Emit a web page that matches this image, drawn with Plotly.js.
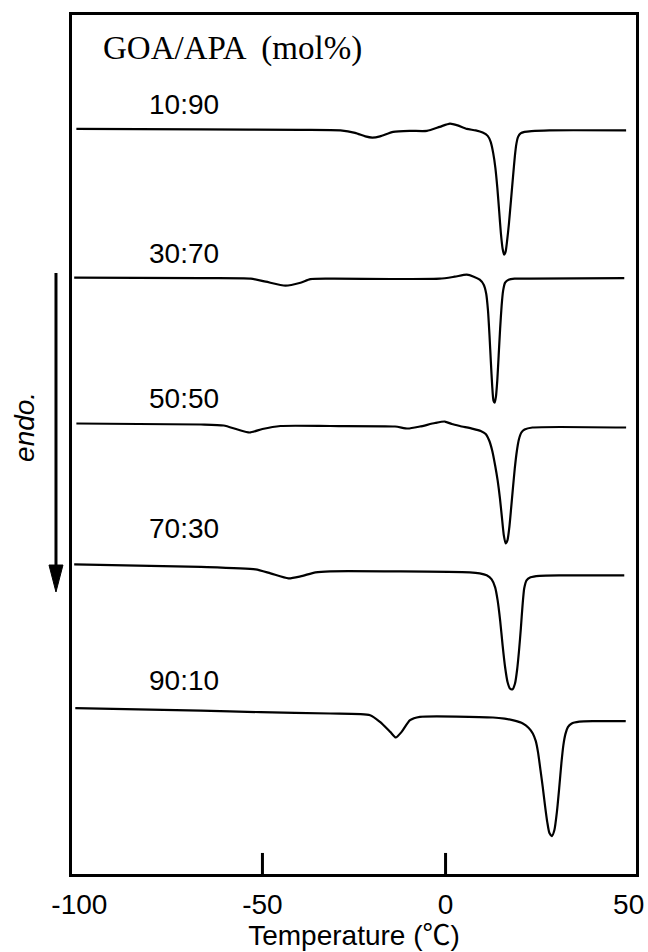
<!DOCTYPE html>
<html>
<head>
<meta charset="utf-8">
<script src="https://cdn.plot.ly/plotly-3.0.1.min.js"></script>
<style>
  html, body { margin: 0; padding: 0; background: #fff; }
  #chart { width: 648px; height: 952px; }
</style>
</head>
<body>
<div id="chart"></div>
<script>
// DSC heating traces of GOA/APA blends, stacked with a vertical offset
// (heat flow in arbitrary units, endothermic downwards).

const compositions = ['10:90', '30:70', '50:50', '70:30', '90:10'];

const temp1090 = [-100.8, -66.8, -39.6, -28.7, -24.7, -21.9, -20.0, -17.9, -14.3, -9.7, -5.1, -1.6, 1.2, 3.3,
  5.79, 8.24, 10.14, 11.51, 12.32, 13.00, 13.60, 14.14, 14.63, 15.12, 15.58, 15.99, 16.40, 16.81, 17.30,
  17.90, 18.44, 18.93, 19.34, 19.80, 20.48, 21.57, 23.47, 28.36, 49.3];
const heat1090 = [747, 746.5, 746, 745.5, 743, 739.5, 738.3, 739.5, 744, 745, 745, 749, 752.3, 750.5,
  747, 745.5, 743.3, 740, 734, 723, 708, 688, 665, 642, 627, 621, 624, 635, 652,
  677, 700, 720, 732, 739, 742.5, 744, 744.8, 745.5, 745.5];

const temp3070 = [-101.4, -66.8, -53.2, -49.1, -43.7, -39.6, -36.9, -31.5, -1.6, 2.5, 5.79, 7.70, 9.33,
  10.42, 11.10, 11.59, 12.00, 12.38, 12.73, 13.08, 13.41, 13.76, 14.12, 14.50, 14.90, 15.31, 15.72,
  16.26, 17.21, 18.85, 22.93, 48.8];
const heat3070 = [598, 597.5, 597, 594, 590, 593, 596.5, 597, 597, 599, 601, 599, 596,
  591, 582, 565, 540, 513, 490, 475, 473, 479, 495, 520, 547, 570, 585,
  593, 596, 597, 597, 597.5];

const temp5050 = [-100.8, -66.8, -60.6, -56.8, -53.5, -50.0, -45.1, -31.5, -13.8, -10.3, -7.0, -2.9, -0.2,
  1.7, 3.9, 7.50, 9.60, 10.96, 11.91, 12.73, 13.54, 14.22, 14.85, 15.39, 15.91, 16.40, 16.89, 17.38,
  17.90, 18.39, 18.90, 19.45, 20.02, 20.70, 21.57, 23.74, 49.3];
const heat5050 = [452, 451, 450, 446, 443, 446.5, 449.5, 449.5, 449, 447, 449, 452.5, 454,
  451.5, 449.5, 446.7, 444.5, 441.5, 435, 425, 410, 395, 377, 358, 340, 332, 335, 347,
  367, 387, 407, 424, 436, 443, 446, 448, 448];

const temp7030 = [-101.4, -66.8, -51.9, -47.8, -42.9, -39.6, -35.5, -31.5, 6.61, 9.33, 11.23, 12.59, 13.54,
  14.22, 14.90, 15.58, 16.26, 16.94, 17.62, 18.30, 18.98, 19.52, 20.07, 20.56, 21.02, 21.48, 22.11,
  23.20, 25.64, 31.08, 48.8];
const heat7030 = [311, 308.5, 306, 302, 297, 299, 303, 304, 303, 302, 300, 296, 288,
  275, 255, 230, 208, 193, 186.5, 186, 192, 205, 225, 247, 270, 287, 295,
  298, 299.5, 300, 300];

const temp9010 = [-101.1, -66.8, -50.5, -31.5, -20.6, -17.9, -15.1, -13.6, -12.0, -9.7, -7.0, 12.94, 16.13,
  18.85, 21.10, 22.65, 23.82, 24.64, 25.24, 25.92, 26.54, 27.14, 27.77, 28.36, 29.04, 29.72, 30.40,
  31.03, 31.63, 32.17, 32.72, 33.40, 34.35, 36.52, 40.60, 49.2];
const heat9010 = [167, 164.5, 163, 161.7, 160, 153.3, 143.3, 137.7, 143.3, 155, 158.3, 157.7, 156.5,
  154.5, 151.7, 147.5, 141.7, 134, 123, 105, 88, 70, 53, 42, 39, 45, 63,
  87, 112, 130, 141, 148, 151.5, 153.5, 154, 154];

const tickTemps = [-100, -50, 0, 50];
const markedTicks = [-50, 0];

const temps = [temp1090, temp3070, temp5050, temp7030, temp9010];
const heats = [heat1090, heat3070, heat5050, heat7030, heat9010];

const traces = compositions.map((name, i) => ({
  type: 'scatter',
  mode: 'lines',
  name: name,
  x: temps[i],
  y: heats[i],
  line: { color: '#000', width: 2.2, shape: 'spline', smoothing: 0.6 },
  hoverinfo: 'skip',
  showlegend: false
}));

// label heights for each trace (in the stacked heat-flow units)
const labelY = [771, 622, 477, 347, 195];

const sans = 'Liberation Sans, Arial, Noto Sans CJK JP, sans-serif';

const annotations = compositions.map((name, i) => ({
  x: -71.5, y: labelY[i], xref: 'x', yref: 'y',
  text: name, showarrow: false,
  xanchor: 'center', yanchor: 'middle',
  font: { family: sans, size: 28, color: '#000' }
}));

annotations.push({
  x: -94.0, y: 827.5, xref: 'x', yref: 'y',
  text: 'GOA/APA  (mol%)', showarrow: false,
  xanchor: 'left', yanchor: 'middle',
  font: { family: 'Liberation Serif, Times New Roman, serif', size: 33, color: '#000' }
});

// "endo." direction label beside the arrow
annotations.push({
  x: -0.084, y: 0.52, xref: 'paper', yref: 'paper',
  text: '<i>endo.</i>', showarrow: false, textangle: -90,
  xanchor: 'center', yanchor: 'middle',
  font: { family: sans, size: 28, color: '#000' }
});

const shapes = markedTicks.map(t => ({
  type: 'line', xref: 'x', yref: 'paper',
  x0: t, x1: t, y0: 0, y1: 0.0245,
  line: { color: '#000', width: 3 }
}));

// endothermic arrow (shaft + head) left of the frame
shapes.push({
  type: 'line', xref: 'paper', yref: 'paper',
  x0: -0.0284, x1: -0.0284, y0: 0.6997, y1: 0.355,
  line: { color: '#000', width: 3 }
});
shapes.push({
  type: 'path', xref: 'paper', yref: 'paper',
  path: 'M -0.0408,0.3597 L -0.0160,0.3597 L -0.0284,0.3283 Z',
  fillcolor: '#000', line: { color: '#000', width: 1 }
});

const layout = {
  width: 648, height: 952,
  margin: { l: 72, r: 12, t: 15, b: 78 },
  paper_bgcolor: '#fff', plot_bgcolor: '#fff',
  showlegend: false,
  xaxis: {
    range: [-102, 52],
    tickvals: tickTemps, ticktext: tickTemps.map(String),
    ticks: '', showgrid: false, zeroline: false,
    showline: true, mirror: true, linecolor: '#000', linewidth: 3,
    tickfont: { family: sans, size: 28, color: '#000' },
    ticklabelstandoff: 3,
    title: { text: 'Temperature (℃)', standoff: 6, font: { family: sans, size: 28, color: '#000' } }
  },
  yaxis: {
    range: [1, 861],
    showticklabels: false, ticks: '', showgrid: false, zeroline: false,
    showline: true, mirror: true, linecolor: '#000', linewidth: 3
  },
  annotations: annotations,
  shapes: shapes
};

Plotly.newPlot('chart', traces, layout, { staticPlot: true, displayModeBar: false });
</script>
</body>
</html>
